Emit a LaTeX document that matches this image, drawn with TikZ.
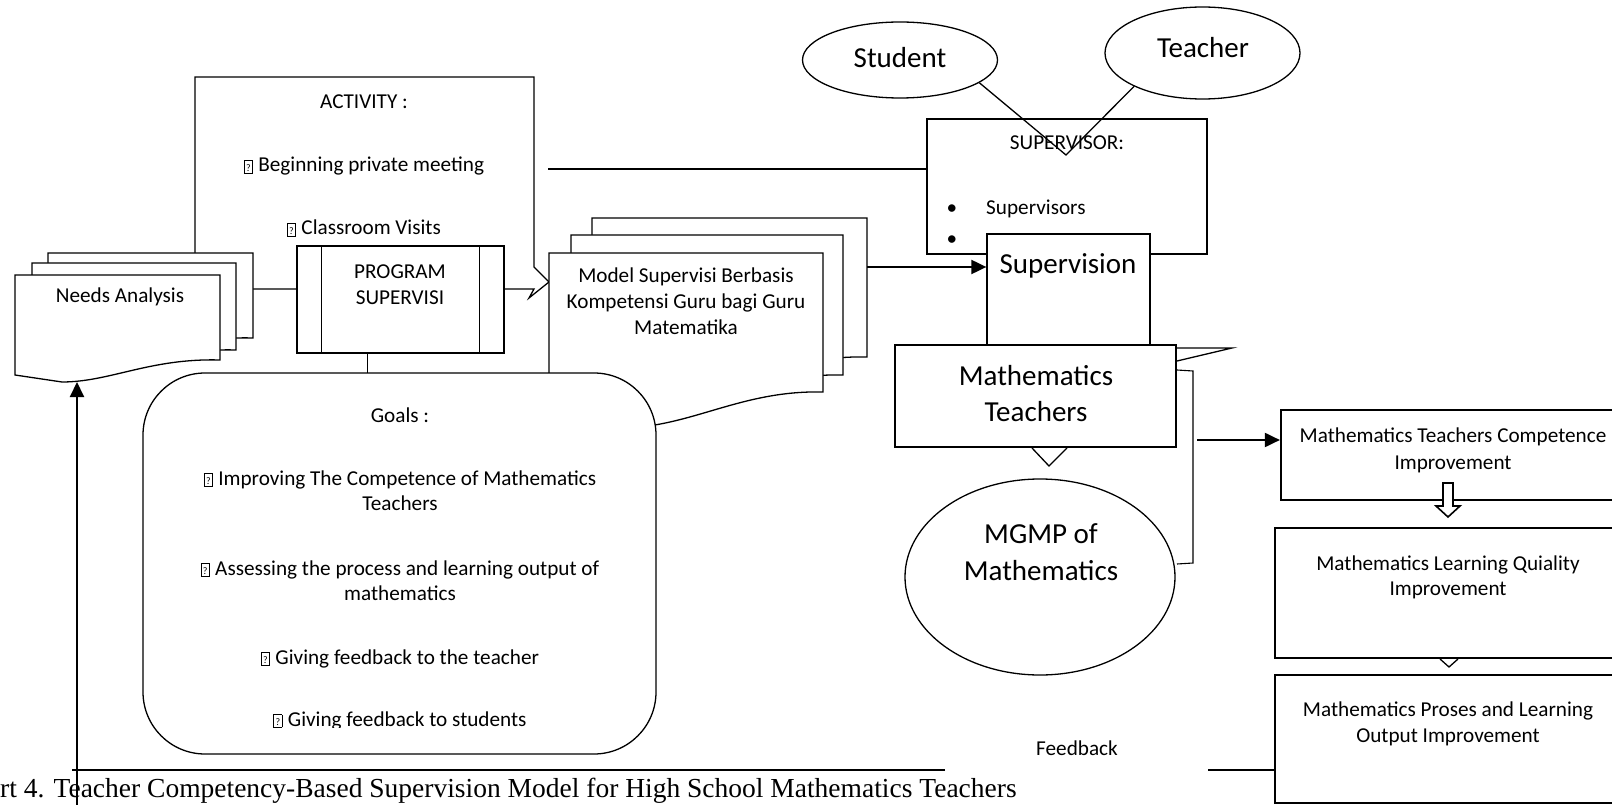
\documentclass[tikz,border=0pt]{standalone}
\usepackage{fontspec}
\setmainfont{Carlito}
\newfontfamily\capfont{Liberation Serif}
\usetikzlibrary{shapes.geometric,arrows.meta}
\newcommand{\qbx}{{\setlength{\fboxsep}{0.5pt}\setlength{\fboxrule}{0.7pt}\raisebox{-0.5pt}{\fbox{\rule{0pt}{11pt}\makebox[6.5pt]{\raisebox{1pt}{\fontsize{10}{10}\selectfont ?}}}}}\hspace{5.5pt}}
\tikzset{
  ln/.style={line width=1.3pt},
  bx/.style={draw, ln, fill=white, rectangle, inner sep=0pt},
  tb/.style={font=\fontsize{21.2}{26}\selectfont, inner sep=0pt, anchor=base},
  tbig/.style={font=\fontsize{29}{36}\selectfont, inner sep=0pt, anchor=base},
  arr/.style={line width=2pt, -{Triangle[length=15pt,width=14pt]}},
  hbx/.style={bx, line width=2.2pt},
  doc/.style={ln, fill=white},
}
\begin{document}
\begin{tikzpicture}[x=1pt,y=-1pt]
\fill[white] (0,0) rectangle (1612,805);
\useasboundingbox (0,0) rectangle (1612,805);

% ACTIVITY shape
\draw[ln, fill=white, line join=miter] (195,289) -- (195,77) -- (534,77) -- (534,267) -- (549,282) -- (529,298) -- (534,289) -- cycle;
\node[tb] (acttitle) at (364,109) {ACTIVITY :};
\node[tb] (act1) at (364,172) {\qbx Beginning private meeting};
\node[tb] (act2) at (364,235) {\qbx Classroom Visits};

% Needs analysis stack
\draw[doc] (48,253) -- (253,253) -- (253,338) .. controls (183,336) and (140,360) .. (93,360) -- (48,353) -- cycle;
\draw[doc] (32,263) -- (236,263) -- (236,350) .. controls (166,348) and (124,372) .. (77,372) -- (32,365) -- cycle;
\draw[doc] (15,275) -- (220,275) -- (220,360) .. controls (150,358) and (110,382) .. (62,382) -- (15,375) -- cycle;
\node[tb] (needs) at (120,302) {Needs Analysis};

% Program supervisi
\node[bx, minimum width=207pt, minimum height=107pt] (program) at (400.5,299.5) {};
\draw[ln] ([xshift=25pt]program.north west) -- ([xshift=25pt]program.south west);
\draw[ln] ([xshift=-25pt]program.north east) -- ([xshift=-25pt]program.south east);
\node[tb] (prog1) at (400,278) {PROGRAM};
\node[tb] (prog2) at (400,304) {SUPERVISI};

% Model stack
\draw[doc] (592,218) -- (867,218) -- (867,357) .. controls (784,355) and (734,393) .. (664,393) -- (592,380) -- cycle;
\draw[doc] (571,235) -- (843,235) -- (843,375) .. controls (760,373) and (710,411) .. (642,411) -- (571,398) -- cycle;
\draw[doc] (549,253) -- (823,253) -- (823,392) .. controls (740,390) and (690,428) .. (620,428) -- (549,415) -- cycle;
\node[tb] (mod1) at (686,282) {Model Supervisi Berbasis};
\node[tb] (mod2) at (686,308) {Kompetensi Guru bagi Guru};
\node[tb] (mod3) at (686,334) {Matematika};

% Program to goals
\draw[ln] ([xshift=-33pt]program.south) -- ++(0,22);

% Goals
\node[draw, ln, fill=white, rounded corners=62pt, minimum width=513pt, minimum height=381pt, inner sep=0pt] (goals) at (399.5,563.5) {};
\node[tb] (g0) at (400,422) {Goals :};
\node[tb] (g1) at (400,485) {\qbx Improving The Competence of Mathematics};
\node[tb] (g1b) at (400,510) {Teachers};
\node[tb] (g2) at (400,575) {\qbx Assessing the process and learning output of};
\node[tb] (g2b) at (400,600) {mathematics};
\node[tb] (g3) at (400,664) {\qbx Giving feedback to the teacher};
\begin{scope}
\clip (150,700) rectangle (650,727.5);
\node[tb] (g4) at (400,726) {\qbx Giving feedback to students};
\end{scope}

% Supervisor
\node[bx, minimum width=280pt, minimum height=135pt] (supervisor) at (1067,186.5) {};
\node[tb] (svtitle) at (1067,150) {SUPERVISOR:};
\node[tb] (bul1) at (952,215) {•};
\node[tb, anchor=base west] (sv1) at (986,215) {Supervisors};
\node[tb] (bul2) at (952,246) {•};
\coordinate (actR) at (548,169);
\draw[ln] (actR) -- (supervisor.west |- actR);

% Supervision
\node[bx, minimum width=163pt, minimum height=112pt] (supervision) at (1068.5,290) {};
\node[tbig] (supt) at (1068,273) {Supervision};

% Math teachers
\node[bx, line width=1.7pt, minimum width=281pt, minimum height=102pt] (mt) at (1035.5,396) {};
\node[tbig] (mt1) at (1036,385) {Mathematics};
\node[tbig] (mt2) at (1036,421) {Teachers};
\draw[ln, line join=miter] (1176,348) -- (1232,348) -- (1177,361);
\draw[line width=1.1pt] (1177,370) -- (1193,371) -- (1193,563) -- (1177,564);
\draw[ln, fill=white] (1032,448) -- (1049,466) -- (1067,448);

% MGMP
\node[draw, ln, ellipse, minimum width=270pt, minimum height=196pt, inner sep=0pt] (mgmp) at (1040,577) {};
\node[tbig] (mg1) at (1041,543) {MGMP of};
\node[tbig] (mg2) at (1041,580) {Mathematics};

% Student / Teacher
\node[draw, ln, ellipse, fill=white, minimum width=195pt, minimum height=76pt, inner sep=0pt] (student) at (900,60) {};
\node[tbig] (stt) at (900,68) {Student};
\node[draw, ln, ellipse, fill=white, minimum width=195pt, minimum height=92pt, inner sep=0pt] (teacher) at (1202.5,53) {};
\node[tbig] (tct) at (1203,58) {Teacher};
\coordinate (vpt) at (1066,155);
\draw[ln] (student.-16) -- (vpt) -- (teacher.-154);

% Right column
\node[hbx, minimum width=344pt, minimum height=90pt] (comp) at (1453,455) {};
\node[tb] (c1) at (1453,442) {Mathematics Teachers Competence};
\node[tb] (c2) at (1453,469) {Improvement};
\node[hbx, minimum width=350pt, minimum height=130pt] (learn) at (1450,593) {};
\node[tb] (l1) at (1448,570) {Mathematics Learning Quiality};
\node[tb] (l2) at (1448,595) {Improvement};
\node[hbx, minimum width=350pt, minimum height=128pt] (proses) at (1450,739) {};
\node[tb] (p1) at (1448,716) {Mathematics Proses and Learning};
\node[tb] (p2) at (1448,742) {Output Improvement};
\draw[line width=1.6pt, fill=white, line join=miter] (1443,483) -- (1453,483) -- (1453,506) -- (1460,506) -- (1448,517) -- (1436,506) -- (1443,506) -- cycle;
\draw[ln] (1440,659) -- (1449,667) -- (1458,659);

% Arrows
\coordinate (modelR) at (867,267);
\draw[arr] (modelR) -- (supervision.west |- modelR);
\coordinate (brk) at (1197,440);
\draw[arr] (brk) -- (comp.west |- brk);

% Caption
\node[inner sep=0pt, anchor=base west, font=\capfont\fontsize{27.5}{32}\selectfont] (caption) at (0,797) {rt 4. Teacher Competency-Based Supervision Model for High School Mathematics Teachers};

% Feedback
\coordinate (fbR) at (1208,770);
\draw[line width=1.5pt] (proses.west |- fbR) -- (fbR);
\coordinate (fbM) at (945,770);
\coordinate (fbL) at (72,770);
\draw[line width=1.5pt] (fbM) -- (fbL);
\node[tb] (fblabel) at (1077,755) {Feedback};
\coordinate (fbbot) at (77,805);
\coordinate (needsbot) at (77,382);
\draw[arr] (fbbot) -- (needsbot);
\end{tikzpicture}
\end{document}
